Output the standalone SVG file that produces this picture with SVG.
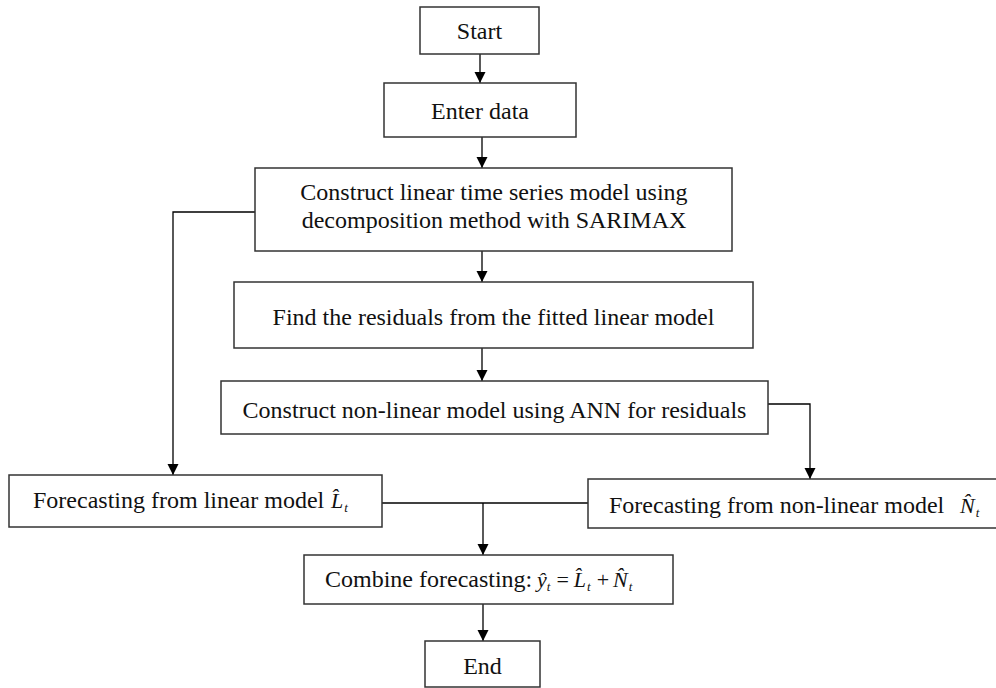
<svg xmlns="http://www.w3.org/2000/svg" width="996" height="688" viewBox="0 0 996 688">
<style>
.box{fill:#fff;stroke:#333;stroke-width:1.5}
.t{font-family:"Liberation Serif","Times New Roman",serif;font-size:24px;fill:#111}
.mt{font-family:"Liberation Serif","Times New Roman",serif;font-size:22px;fill:#111}
.i{font-style:italic}
.s{font-size:13px;font-style:italic}
.c{text-anchor:middle}
.ln{fill:none;stroke:#000;stroke-width:1.3}
</style>
<defs>
<marker id="ah" markerUnits="userSpaceOnUse" markerWidth="12" markerHeight="14" refX="11" refY="5.5" orient="auto">
<path d="M0,0 L11,5.5 L0,11 Z" fill="#000"/>
</marker>
</defs>
<rect width="996" height="688" fill="#fff"/>
<g id="connectors">
<path class="ln" d="M480,54 V83" marker-end="url(#ah)"/>
<path class="ln" d="M482,137 V168" marker-end="url(#ah)"/>
<path class="ln" d="M482,251 V282" marker-end="url(#ah)"/>
<path class="ln" d="M482,348 V381" marker-end="url(#ah)"/>
<path class="ln" d="M255,212 H173 V475" marker-end="url(#ah)"/>
<path class="ln" d="M768,404 H810 V479" marker-end="url(#ah)"/>
<path class="ln" d="M382,503 H588"/>
<path class="ln" d="M483,503 V555" marker-end="url(#ah)"/>
<path class="ln" d="M483,604 V641" marker-end="url(#ah)"/>
</g>
<g id="start">
<rect class="box" x="420" y="7" width="119" height="47"/>
<text class="t c" x="479.5" y="39">Start</text>
</g>
<g id="enter">
<rect class="box" x="384" y="83" width="192" height="54"/>
<text class="t c" x="480" y="119">Enter data</text>
</g>
<g id="sarimax">
<rect class="box" x="255" y="168" width="477" height="83"/>
<text class="t c" x="494" y="200">Construct linear time series model using</text>
<text class="t c" x="494" y="228">decomposition method with SARIMAX</text>
</g>
<g id="residuals">
<rect class="box" x="234" y="282" width="519" height="66"/>
<text class="t c" x="493.5" y="325">Find the residuals from the fitted linear model</text>
</g>
<g id="ann">
<rect class="box" x="221" y="381" width="547" height="53"/>
<text class="t c" x="494.5" y="418">Construct non-linear model using ANN for residuals</text>
</g>
<g id="linear">
<rect class="box" x="9" y="475" width="373" height="52"/>
<text class="t" x="33" y="508">Forecasting from linear model</text>
<text class="mt" x="331" y="508"><tspan class="i">L&#x302;</tspan><tspan class="s" dx="1" dy="4">t</tspan></text>
</g>
<g id="nonlinear">
<rect class="box" x="588" y="479" width="420" height="49"/>
<text class="t" x="609" y="513">Forecasting from non-linear model</text>
<text class="mt" x="960" y="513"><tspan class="i">N&#x302;</tspan><tspan class="s" dx="1" dy="4">t</tspan></text>
</g>
<g id="combine">
<rect class="box" x="304" y="555" width="369" height="49"/>
<text class="t" x="325" y="587">Combine forecasting:</text>
<text class="mt" x="537" y="587"><tspan class="i">&#x177;</tspan><tspan class="s" dx="0" dy="4">t</tspan><tspan dx="6" dy="-4">=</tspan><tspan class="i" dx="5">L&#x302;</tspan><tspan class="s" dx="1" dy="4">t</tspan><tspan dx="6" dy="-4">+</tspan><tspan class="i" dx="4">N&#x302;</tspan><tspan class="s" dx="1" dy="4">t</tspan></text>
</g>
<g id="end">
<rect class="box" x="425" y="641" width="115" height="46"/>
<text class="t c" x="482.5" y="674">End</text>
</g>
</svg>
